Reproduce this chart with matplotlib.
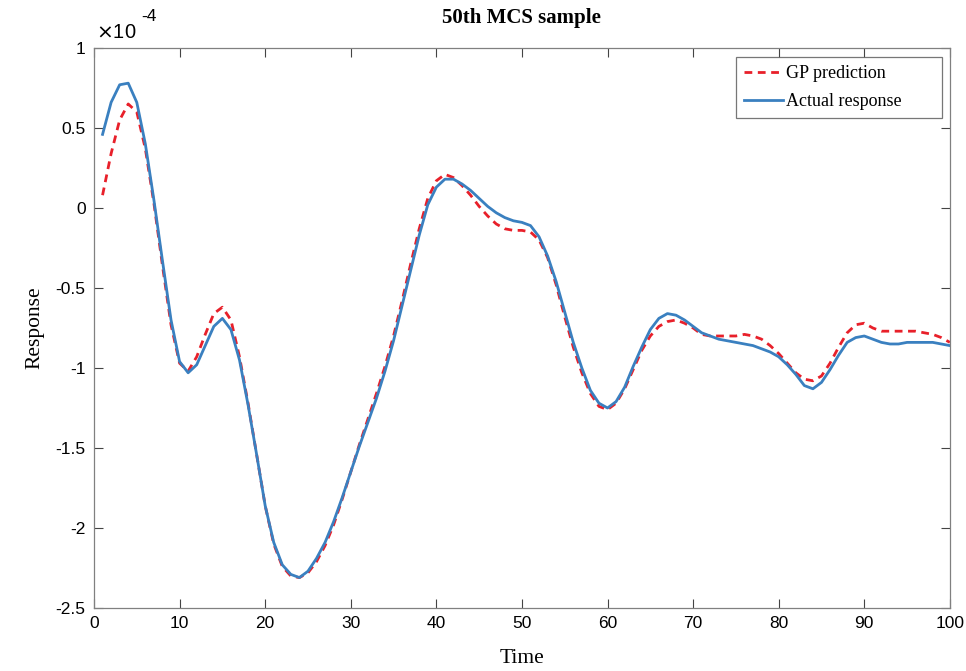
import numpy as np
import matplotlib
matplotlib.use('Agg')
import matplotlib.pyplot as plt

# response values, in units of 1e-4
time = np.arange(1, 101)

gp_prediction = [
    0.08, 0.34, 0.55, 0.65, 0.60, 0.37, 0.03, -0.36, -0.73, -0.97,
    -1.02, -0.93, -0.79, -0.66, -0.62, -0.70, -0.93, -1.22, -1.54, -1.86,
    -2.10, -2.24, -2.30, -2.31, -2.28, -2.21, -2.11, -1.98, -1.82, -1.65,
    -1.48, -1.32, -1.16, -0.99, -0.80, -0.58, -0.35, -0.13, 0.06, 0.17,
    0.21, 0.19, 0.14, 0.08, 0.01, -0.05, -0.10, -0.13, -0.14, -0.14,
    -0.15, -0.20, -0.31, -0.48, -0.68, -0.87, -1.03, -1.16, -1.24, -1.26,
    -1.22, -1.13, -1.01, -0.89, -0.80, -0.74, -0.71, -0.70, -0.72, -0.75,
    -0.79, -0.80, -0.80, -0.80, -0.80, -0.79, -0.80, -0.82, -0.86, -0.91,
    -0.97, -1.03, -1.07, -1.08, -1.05, -0.97, -0.87, -0.78, -0.73, -0.72,
    -0.75, -0.77, -0.77, -0.77, -0.77, -0.77, -0.78, -0.79, -0.81, -0.84,
]

actual_response = [
    0.46, 0.66, 0.77, 0.78, 0.66, 0.40, 0.05, -0.33, -0.70, -0.96,
    -1.03, -0.98, -0.86, -0.74, -0.69, -0.76, -0.95, -1.23, -1.54, -1.86,
    -2.09, -2.23, -2.29, -2.31, -2.27, -2.19, -2.09, -1.96, -1.81, -1.65,
    -1.49, -1.34, -1.19, -1.02, -0.83, -0.61, -0.39, -0.17, 0.02, 0.13,
    0.18, 0.18, 0.15, 0.11, 0.06, 0.01, -0.03, -0.06, -0.08, -0.09,
    -0.11, -0.18, -0.30, -0.46, -0.65, -0.84, -1.00, -1.14, -1.22, -1.25,
    -1.21, -1.12, -0.99, -0.87, -0.76, -0.69, -0.66, -0.67, -0.70, -0.74,
    -0.78, -0.80, -0.82, -0.83, -0.84, -0.85, -0.86, -0.88, -0.90, -0.93,
    -0.98, -1.04, -1.11, -1.13, -1.09, -1.01, -0.92, -0.84, -0.81, -0.80,
    -0.82, -0.84, -0.85, -0.85, -0.84, -0.84, -0.84, -0.84, -0.85, -0.86,
]

xticks = list(range(0, 101, 10))
yticks = [-2.5, -2, -1.5, -1, -0.5, 0, 0.5, 1]
ytick_labels = ['-2.5', '-2', '-1.5', '-1', '-0.5', '0', '0.5', '1']

serif = 'Liberation Serif'
sans = 'Liberation Sans'

fig = plt.figure(figsize=(9.66, 6.71), dpi=100)
ax = fig.add_axes([0.0973, 0.0939, 0.886, 0.8346])

ax.plot(time, gp_prediction, color='#e8202a', linestyle='--', linewidth=2.0,
        dashes=(2.8, 2.0), label='GP prediction')
ax.plot(time, actual_response, color='#3a80c0', linewidth=2.0,
        label='Actual response')

ax.set_xlim(0, 100)
ax.set_ylim(-2.5, 1)
ax.set_xticks(xticks)
ax.set_xticklabels([str(t) for t in xticks], fontfamily=sans, fontsize=12.5)
ax.set_yticks(yticks)
ax.set_yticklabels(ytick_labels, fontfamily=sans, fontsize=12.5)

ax.tick_params(direction='in', length=6.5, width=0.8, color='#444444',
               top=True, right=True, pad=6)
for sp in ax.spines.values():
    sp.set_color('#808080')
    sp.set_linewidth(0.9)

ax.set_title('50th MCS sample', fontfamily=serif, fontweight='bold',
             fontsize=15, pad=18)
ax.set_xlabel('Time', fontfamily=serif, fontsize=15.5, labelpad=13)
ax.set_ylabel('Response', fontfamily=serif, fontsize=15.5, labelpad=8)

# exponent label, matlab style
fig.text(0.099, 0.943, r'$\times$10', fontfamily=sans, fontsize=14.5)
fig.text(0.146, 0.968, '-4', fontfamily=sans, fontsize=12.5)

# matlab legend box is wider than its contents
leg = ax.legend(loc='upper left', bbox_to_anchor=(0.750, 0.871, 0.2407, 0.113),
                mode='expand', borderaxespad=0,
                prop={'family': serif, 'size': 13},
                frameon=True, fancybox=False, handlelength=2.15,
                handletextpad=0.2, borderpad=0.45, labelspacing=0.6)
leg.get_frame().set_edgecolor('#555555')
leg.get_frame().set_linewidth(0.9)

fig.savefig('out.png', dpi=100)
